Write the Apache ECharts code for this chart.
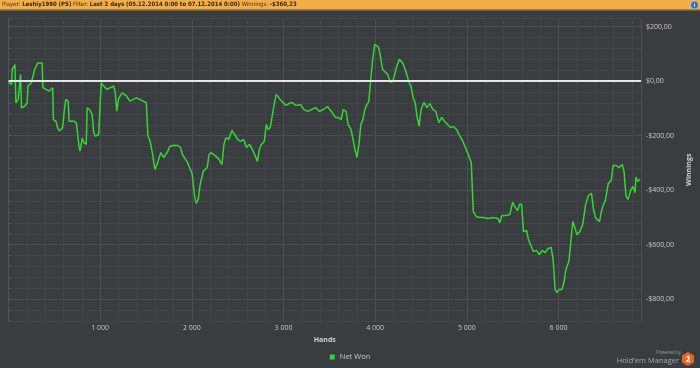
<!DOCTYPE html>
<html><head><meta charset="utf-8">
<script src="https://cdn.jsdelivr.net/npm/echarts@6/dist/echarts.min.js"></script>
<style>html,body{margin:0;padding:0;background:#3a3d40;}#c{width:700px;height:368px;}</style>
</head><body><div id="c"></div>
<script>
const headerPlayer = 'Leshiy1990 (PS)';
const headerFilter = 'Last 2 days (05.12.2014 0:00 to 07.12.2014 0:00)';
const headerWinnings = '-$360,23';
const seriesName = 'Net Won';
const xAxisName = 'Hands';
const yAxisName = 'Winnings';

const hands = [0,34,41,70,81,106,131,142,177,203,213,249,267,285,321,339,367,375,410,446,464,482,489,518,536,554,572,590,608,625,651,661,679,715,740,758,769,780,805,823,848,858,884,912,930,948,984,1002,1013,1038,1073,1109,1145,1163,1181,1199,1217,1242,1288,1324,1360,1396,1432,1468,1503,1521,1539,1556,1575,
1597,1629,1661,1694,1737,1758,1790,1844,1876,1898,1930,1952,1984,2005,2027,2048,2070,2091,2124,2145,2167,2188,2210,2231,2264,2296,2328,2350,2371,2403,2436,2468,2500,2532,2565,2597,2629,2661,2694,2715,2737,2758,2790,2812,2833,2855,2876,2898,2919,2941,2962,2995,3027,3059,3092,3135,3188,3221,3264,3307,3350,3393,3436,3479,3522,3565,3597,3629,3651,3683,3704,3737,3758,3780,3801,3823,3844,3866,3887,3909,3930,3952,3973,3995,4016,4038,4059,4081,4102,4135,4167,4199,4231,4264,4296,4328,4360,4393,4414,4436,4457,4479,4500,4532,4565,4597,4629,4662,4694,4726,4758,4790,4823,4855,4887,4920,4952,4984,5016,5048,5070,5102,5135,5177,5231,5285,5339,5360,5382,5425,5468,5500,5522,5554,5575,5597,5618,5651,5672,5694,5726,5758,5791,5823,5855,5887,5920,5941,5963,5984,6006,6038,6059,6081,6113,6135,6156,6178,6200,6232,6264,6296,6328,6360,6382,6403,6425,6447,6468,6490,6511,6543,6575,6597,6629,6662,6694,6715,6726,6737,6758,6769,6791,6812,6834,6845,6866,6887];

const netWon = [-4,-12,43,61,-79,-67,25,-98,-92,-79,-18,-6,18,43,67,73,67,-24,-30,-36,-30,-24,-141,-147,-171,-183,-189,-171,-110,-67,-73,-147,-153,-147,-153,-159,-238,-257,-208,-226,-232,-98,-104,-122,-189,-202,-195,-67,-6,-18,-30,-24,-18,-36,-110,-67,-55,-43,-55,-73,-67,-61,-67,-73,-79,-202,-214,-238,-275,
-324,-298,-262,-280,-258,-240,-236,-236,-243,-269,-287,-298,-324,-342,-416,-449,-434,-379,-331,-324,-317,-269,-262,-269,-276,-287,-306,-232,-207,-214,-181,-196,-214,-221,-214,-243,-232,-251,-276,-295,-251,-232,-221,-159,-177,-170,-166,-86,-49,-56,-67,-78,-89,-82,-78,-89,-86,-104,-111,-104,-97,-111,-104,-93,-111,-133,-133,-141,-104,-111,-159,-177,-170,-251,-280,-232,-159,-141,-104,-86,-75,6,80,135,142,124,87,43,50,25,-5,6,50,80,69,43,6,-23,-60,-78,-130,-166,-104,-78,-97,-82,-104,-111,-152,-133,-148,-159,-170,-166,-177,-199,-218,-243,-269,-298,-478,-497,-500,-500,-504,-500,-504,-519,-493,-493,-489,-445,-460,-475,-452,-452,-552,-548,-581,-599,-625,-621,-636,-621,-629,-614,-610,-654,-764,-776,-764,-764,-739,-691,-661,-588,-515,-537,-563,-552,-526,-452,-419,-412,-471,-500,-508,-515,-478,-452,-438,-375,-364,-309,-309,-317,-306,-331,-379,-423,-434,-441,-397,-386,-409,-353,-368,-360];

const data = hands.map((h, i) => [h, netWon[i]]);

function fmtMoney(v) {
  const a = Math.abs(v);
  const s = '$' + a.toFixed(2).replace('.', ',');
  return v < 0 ? '-' + s : s;
}
function fmtHands(v) { return String(v).replace(/\B(?=(\d{3})+(?!\d))/g, ' '); }

const minor = '#42464a', major = '#4c5054';
const chart = echarts.init(document.getElementById('c'), null, {renderer: 'canvas'});
chart.setOption({
  backgroundColor: '#3a3d40',
  animation: false,
  textStyle: {fontFamily: 'Open Sans'},
  grid: {left: 8.5, right: 50, top: 18.5, bottom: 47, containLabel: false},
  legend: {
    bottom: 2, left: 'center', icon: 'rect', itemWidth: 5, itemHeight: 5, itemGap: 4,
    textStyle: {color: '#c8c8c8', fontSize: 7.5, fontFamily: 'Open Sans'},
    data: [seriesName]
  },
  xAxis: {
    type: 'value', min: 0, max: 6900, interval: 200,
    name: xAxisName, nameLocation: 'middle', nameGap: 15,
    nameTextStyle: {color: '#d0d0d0', fontSize: 7, fontWeight: 'bold'},
    axisLine: {show: true, lineStyle: {color: '#52565a', width: 1}},
    axisTick: {show: true, length: 3, lineStyle: {color: '#52565a'}},
    axisLabel: {color: '#c8c8c8', fontSize: 7, margin: 3,
      formatter: v => (v > 0 && v % 1000 === 0) ? fmtHands(v) : ''},
    splitLine: {show: true, lineStyle: {color: [major, minor, minor, minor, minor], width: 1}}
  },
  yAxis: {
    type: 'value', position: 'right', min: -880, max: 230, interval: 40,
    name: yAxisName, nameLocation: 'middle', nameGap: 36, nameRotate: 90,
    nameTextStyle: {color: '#d0d0d0', fontSize: 7, fontWeight: 'bold'},
    axisLine: {show: true, lineStyle: {color: '#52565a'}},
    axisTick: {show: true, length: 3, lineStyle: {color: '#52565a'}},
    axisLabel: {color: '#c8c8c8', fontSize: 7, margin: 5,
      formatter: v => (v % 200 === 0) ? fmtMoney(v) : ''},
    splitLine: {show: true, lineStyle: {color: [minor, minor, major, minor, minor], width: 1}}
  },
  series: [{
    name: seriesName, type: 'line', data: data, showSymbol: false, symbol: 'none',
    lineStyle: {color: '#35d535', width: 1.5}, itemStyle: {color: '#35d535'},
    markLine: {silent: true, symbol: 'none', label: {show: false},
      lineStyle: {color: '#e6e6e6', width: 2, type: 'solid'},
      data: [{yAxis: 0}]}
  }],
  graphic: [
    {type: 'rect', z: 10, shape: {x: 0, y: 0, width: 700, height: 9.5}, style: {fill: '#f4ae47'}},
    {type: 'rect', z: 10, shape: {x: 0, y: 9.5, width: 700, height: 1}, style: {fill: '#b98434'}},
    {type: 'text', z: 11, left: 2, top: 1.2, style: {
      text: '{n|Player:} {b|' + headerPlayer + '} {n|Filter:} {b|' + headerFilter + '} {n|Winnings:} {b|' + headerWinnings + '}',
      rich: {
        n: {fontSize: 6, fontFamily: 'DejaVu Sans Condensed', fill: '#3b3222'},
        b: {fontSize: 6, fontFamily: 'DejaVu Sans Condensed', fontWeight: 'bold', fill: '#2e2616'}
      }, fontSize: 6}},
    {type: 'circle', z: 11, shape: {cx: 694.5, cy: 5, r: 3.8}, style: {fill: '#2d6fc0', stroke: '#9cc3ef', lineWidth: 0.6}},
    {type: 'text', z: 12, x: 694.5, y: 5, style: {text: 'i', fontSize: 5.5, fontWeight: 'bold', fill: '#fff', align: 'center', verticalAlign: 'middle'}},
    {type: 'text', z: 11, x: 681, y: 353, style: {text: 'Powered by', fontSize: 4.5, fill: '#9a9a9a', align: 'right', verticalAlign: 'middle', fontFamily: 'Open Sans'}},
    {type: 'text', z: 11, x: 679, y: 361, style: {text: "Hold'em Manager", fontSize: 7.5, fill: '#a8a8a8', align: 'right', verticalAlign: 'middle', fontFamily: 'Open Sans'}},
    {type: 'polygon', z: 11, shape: {points: [[688,352],[694,355.5],[694,362.5],[688,366],[682,362.5],[682,355.5]]}, style: {fill: '#e0662a'}},
    {type: 'text', z: 12, x: 688, y: 359.3, style: {text: '2', fontSize: 8, fontWeight: 'bold', fill: '#fff', align: 'center', verticalAlign: 'middle', fontFamily: 'Open Sans'}}
  ]
});
</script></body></html>
